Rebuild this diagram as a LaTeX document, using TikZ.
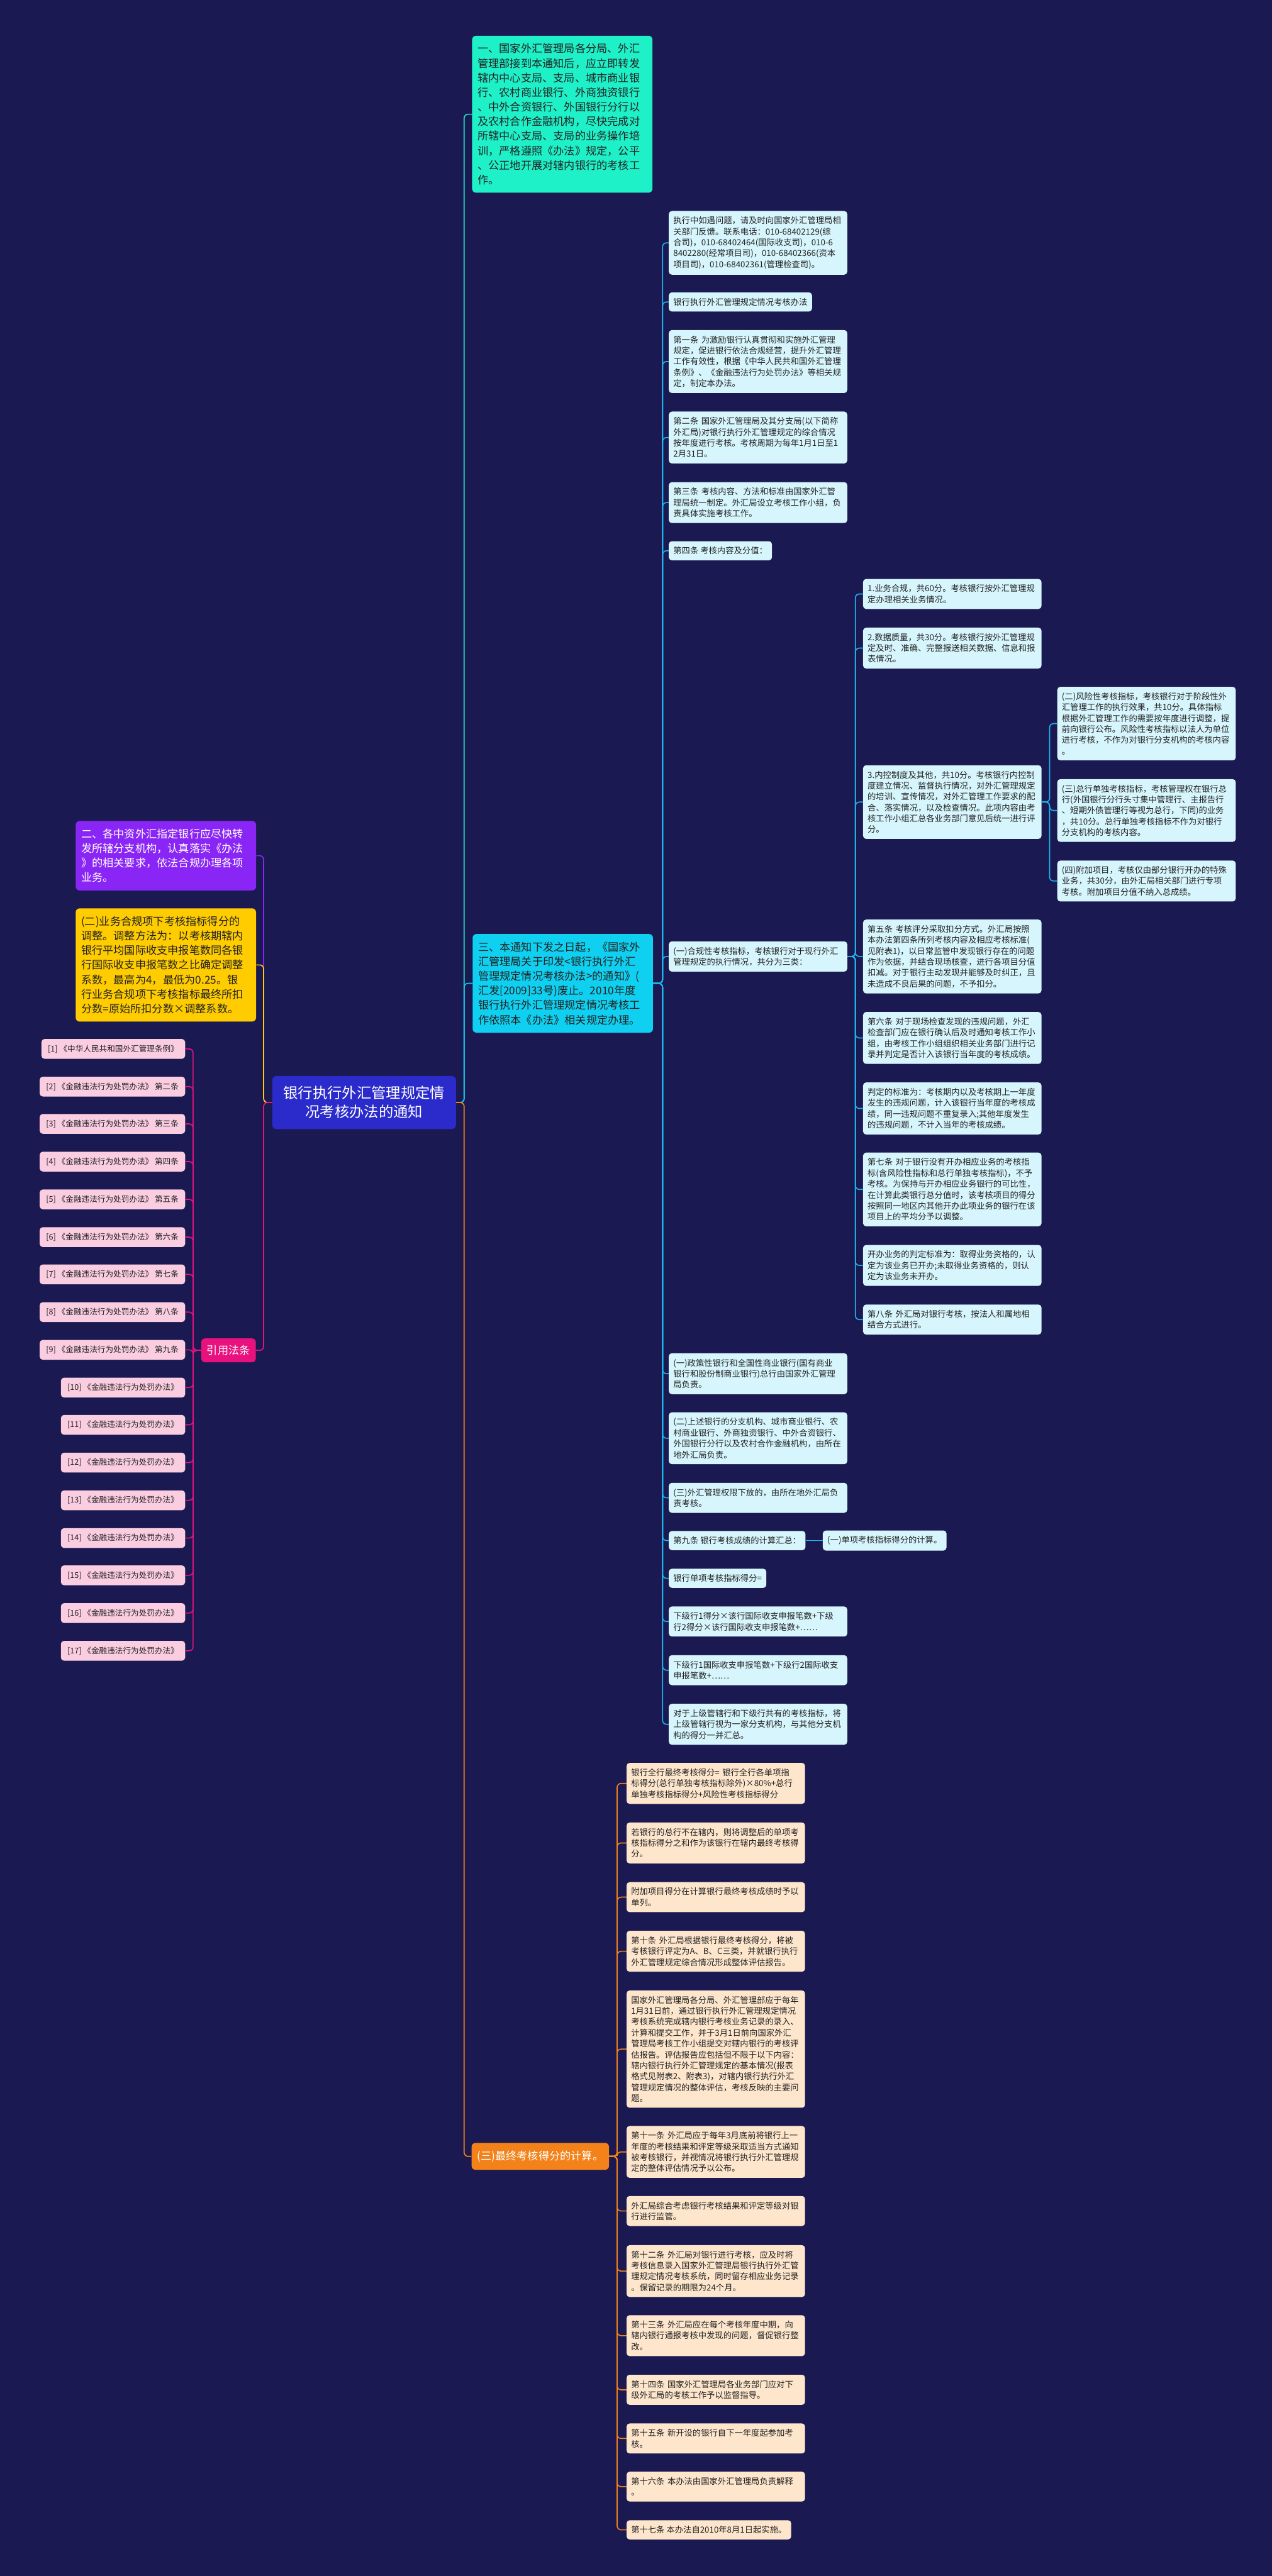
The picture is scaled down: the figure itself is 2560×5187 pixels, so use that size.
\documentclass[tikz,border=0pt]{standalone}
\usepackage{fontspec}
\setmainfont{Noto Sans CJK SC}
\usepackage{tikz}
\definecolor{bgc}{RGB}{27,25,82}
\definecolor{txtc}{RGB}{34,34,34}
\definecolor{tealc}{RGB}{30,240,200}
\definecolor{tealline}{RGB}{28,230,196}
\definecolor{skyc}{RGB}{15,208,240}
\definecolor{skyline}{RGB}{16,200,238}
\definecolor{bline}{RGB}{28,180,235}
\definecolor{lightc}{RGB}{214,245,252}
\definecolor{purp}{RGB}{138,38,245}
\definecolor{yel}{RGB}{255,204,0}
\definecolor{cen}{RGB}{43,43,204}
\definecolor{mag}{RGB}{232,18,127}
\definecolor{pinkc}{RGB}{250,205,225}
\definecolor{orac}{RGB}{242,130,25}
\definecolor{creamc}{RGB}{254,230,204}

\begin{document}
\begin{tikzpicture}[x=0.2mm, y=-0.2mm]

\tikzstyle{mainbox}=[fill=cen, text=white, rounded corners=5pt, minimum width=210.5pt, minimum height=60.9pt, align=center, font=\fontsize{16.8pt}{21.6pt}\selectfont]
\tikzstyle{lvone}=[anchor=west, rounded corners=4.5pt, inner xsep=6.3pt, inner ysep=9pt, text=txtc, font=\fontsize{12.4pt}{16.7pt}\selectfont]
\tikzstyle{lvonew}=[lvone, text width=194pt, align=left]
\tikzstyle{leaf}=[anchor=west, fill=lightc, rounded corners=3.5pt, inner xsep=5.2pt, inner ysep=6.5pt, text=txtc, font=\fontsize{9.6pt}{12.5pt}\selectfont]
\tikzstyle{leafw}=[leaf, text width=194pt, align=left]
\tikzstyle{cream}=[leafw, fill=creamc]
\tikzstyle{ref}=[anchor=east, fill=pinkc, rounded corners=3.5pt, inner xsep=7.4pt, inner ysep=6.7pt, text=txtc, font=\fontsize{9.1pt}{12pt}\selectfont]
\tikzstyle{cline}=[line width=1.2pt, rounded corners=4.5pt]

\useasboundingbox (0,0) rectangle (2560,5187);
\fill [bgc] (0,0) rectangle (2560,5187);

\node (M) [mainbox] at (733,2220) {银行执行外汇管理规定情\\况考核办法的通知};

\node (T) [lvonew, fill=tealc] at (950,230) {一、国家外汇管理局各分局、外汇\\管理部接到本通知后，应立即转发\\辖内中心支局、支局、城市商业银\\行、农村商业银行、外商独资银行\\、中外合资银行、外国银行分行以\\及农村合作金融机构，尽快完成对\\所辖中心支局、支局的业务操作培\\训，严格遵照《办法》规定，公平\\、公正地开展对辖内银行的考核工\\作。};
\node (S) [lvonew, fill=skyc] at (951,1980) {三、本通知下发之日起，《国家外\\汇管理局关于印发<银行执行外汇\\管理规定情况考核办法>的通知》(\\汇发[2009]33号)废止。2010年度\\银行执行外汇管理规定情况考核工\\作依照本《办法》相关规定办理。};
\node (O) [lvone, fill=orac, text=white] at (949,4342) {(三)最终考核得分的计算。};
\node (P) [lvonew, fill=purp, text=white] at (152,1723) {二、各中资外汇指定银行应尽快转\\发所辖分支机构，认真落实《办法\\》的相关要求，依法合规办理各项\\业务。};
\node (Y) [lvonew, fill=yel] at (152,1943) {(二)业务合规项下考核指标得分的\\调整。调整方法为：以考核期辖内\\银行平均国际收支申报笔数同各银\\行国际收支申报笔数之比确定调整\\系数，最高为4，最低为0.25。银\\行业务合规项下考核指标最终所扣\\分数=原始所扣分数×调整系数。};
\node (L) [fill=mag, text=white, rounded corners=4pt, minimum width=62.6pt, minimum height=27.3pt, font=\fontsize{12.4pt}{16pt}\selectfont] at (460,2719) {引用法条};

\node (R1) [ref] at (373,2112) {[1]~《中华人民共和国外汇管理条例》};
\node (R2) [ref] at (373,2188) {[2]~《金融违法行为处罚办法》~第二条};
\node (R3) [ref] at (373,2263) {[3]~《金融违法行为处罚办法》~第三条};
\node (R4) [ref] at (373,2339) {[4]~《金融违法行为处罚办法》~第四条};
\node (R5) [ref] at (373,2415) {[5]~《金融违法行为处罚办法》~第五条};
\node (R6) [ref] at (373,2491) {[6]~《金融违法行为处罚办法》~第六条};
\node (R7) [ref] at (373,2566) {[7]~《金融违法行为处罚办法》~第七条};
\node (R8) [ref] at (373,2642) {[8]~《金融违法行为处罚办法》~第八条};
\node (R9) [ref] at (373,2718) {[9]~《金融违法行为处罚办法》~第九条};
\node (R10) [ref] at (373,2794) {[10]~《金融违法行为处罚办法》};
\node (R11) [ref] at (373,2869) {[11]~《金融违法行为处罚办法》};
\node (R12) [ref] at (373,2945) {[12]~《金融违法行为处罚办法》};
\node (R13) [ref] at (373,3021) {[13]~《金融违法行为处罚办法》};
\node (R14) [ref] at (373,3097) {[14]~《金融违法行为处罚办法》};
\node (R15) [ref] at (373,3172) {[15]~《金融违法行为处罚办法》};
\node (R16) [ref] at (373,3248) {[16]~《金融违法行为处罚办法》};
\node (R17) [ref] at (373,3324) {[17]~《金融违法行为处罚办法》};

\node (B1) [leafw] at (1346,489) {执行中如遇问题，请及时向国家外汇管理局相\\关部门反馈。联系电话：010-68402129(综\\合司)，010-68402464(国际收支司)，010-6\\8402280(经常项目司)，010-68402366(资本\\项目司)，010-68402361(管理检查司)。};
\node (B2) [leaf] at (1346,608) {银行执行外汇管理规定情况考核办法};
\node (B3) [leafw] at (1346,728) {第一条~为激励银行认真贯彻和实施外汇管理\\规定，促进银行依法合规经营，提升外汇管理\\工作有效性，根据《中华人民共和国外汇管理\\条例》、《金融违法行为处罚办法》等相关规\\定，制定本办法。};
\node (B4) [leafw] at (1346,881) {第二条~国家外汇管理局及其分支局(以下简称\\外汇局)对银行执行外汇管理规定的综合情况\\按年度进行考核。考核周期为每年1月1日至1\\2月31日。};
\node (B5) [leafw] at (1346,1012) {第三条~考核内容、方法和标准由国家外汇管\\理局统一制定。外汇局设立考核工作小组，负\\责具体实施考核工作。};
\node (B6) [leaf] at (1346,1109) {第四条~考核内容及分值：};
\node (B7) [leafw] at (1346,1926) {(一)合规性考核指标，考核银行对于现行外汇\\管理规定的执行情况，共分为三类：};
\node (B8) [leafw] at (1346,2766) {(一)政策性银行和全国性商业银行(国有商业\\银行和股份制商业银行)总行由国家外汇管理\\局负责。};
\node (B9) [leafw] at (1346,2896) {(二)上述银行的分支机构、城市商业银行、农\\村商业银行、外商独资银行、中外合资银行、\\外国银行分行以及农村合作金融机构，由所在\\地外汇局负责。};
\node (B10) [leafw] at (1346,3016) {(三)外汇管理权限下放的，由所在地外汇局负\\责考核。};
\node (B11) [leaf] at (1346,3102) {第九条~银行考核成绩的计算汇总：};
\node (B12) [leaf] at (1346,3178) {银行单项考核指标得分=};
\node (B13) [leafw] at (1346,3265) {下级行1得分×该行国际收支申报笔数+下级\\行2得分×该行国际收支申报笔数+……};
\node (B14) [leafw] at (1346,3363) {下级行1国际收支申报笔数+下级行2国际收支\\申报笔数+……};
\node (B15) [leafw] at (1346,3472) {对于上级管辖行和下级行共有的考核指标，将\\上级管辖行视为一家分支机构，与其他分支机\\构的得分一并汇总。};
\node (Q) [leaf] at (1656,3102) {(一)单项考核指标得分的计算。};

\node (C1) [leafw] at (1737,1196) {1.业务合规，共60分。考核银行按外汇管理规\\定办理相关业务情况。};
\node (C2) [leafw] at (1737,1305) {2.数据质量，共30分。考核银行按外汇管理规\\定及时、准确、完整报送相关数据、信息和报\\表情况。};
\node (C3) [leafw] at (1737,1615) {3.内控制度及其他，共10分。考核银行内控制\\度建立情况、监督执行情况，对外汇管理规定\\的培训、宣传情况，对外汇管理工作要求的配\\合、落实情况，以及检查情况。此项内容由考\\核工作小组汇总各业务部门意见后统一进行评\\分。};
\node (C4) [leafw] at (1737,1926) {第五条~考核评分采取扣分方式。外汇局按照\\本办法第四条所列考核内容及相应考核标准(\\见附表1)，以日常监管中发现银行存在的问题\\作为依据，并结合现场核查，进行各项目分值\\扣减。对于银行主动发现并能够及时纠正，且\\未造成不良后果的问题，不予扣分。};
\node (C5) [leafw] at (1737,2090) {第六条~对于现场检查发现的违规问题，外汇\\检查部门应在银行确认后及时通知考核工作小\\组，由考核工作小组组织相关业务部门进行记\\录并判定是否计入该银行当年度的考核成绩。};
\node (C6) [leafw] at (1737,2232) {判定的标准为：考核期内以及考核期上一年度\\发生的违规问题，计入该银行当年度的考核成\\绩，同一违规问题不重复录入;其他年度发生\\的违规问题，不计入当年的考核成绩。};
\node (C7) [leafw] at (1737,2395) {第七条~对于银行没有开办相应业务的考核指\\标(含风险性指标和总行单独考核指标)，不予\\考核。为保持与开办相应业务银行的可比性，\\在计算此类银行总分值时，该考核项目的得分\\按照同一地区内其他开办此项业务的银行在该\\项目上的平均分予以调整。};
\node (C8) [leafw] at (1737,2548) {开办业务的判定标准为：取得业务资格的，认\\定为该业务已开办;未取得业务资格的，则认\\定为该业务未开办。};
\node (C9) [leafw] at (1737,2657) {第八条~外汇局对银行考核，按法人和属地相\\结合方式进行。};

\node (D1) [leafw] at (2128,1457) {(二)风险性考核指标，考核银行对于阶段性外\\汇管理工作的执行效果，共10分。具体指标\\根据外汇管理工作的需要按年度进行调整，提\\前向银行公布。风险性考核指标以法人为单位\\进行考核，不作为对银行分支机构的考核内容\\。};
\node (D2) [leafw] at (2128,1632) {(三)总行单独考核指标，考核管理权在银行总\\行(外国银行分行头寸集中管理行、主报告行\\、短期外债管理行等视为总行，下同)的业务\\，共10分。总行单独考核指标不作为对银行\\分支机构的考核内容。};
\node (D3) [leafw] at (2128,1774) {(四)附加项目，考核仅由部分银行开办的特殊\\业务，共30分，由外汇局相关部门进行专项\\考核。附加项目分值不纳入总成绩。};

\node (E1) [cream] at (1261,3591) {银行全行最终考核得分=~银行全行各单项指\\标得分(总行单独考核指标除外)×80\%+总行\\单独考核指标得分+风险性考核指标得分};
\node (E2) [cream] at (1261,3711) {若银行的总行不在辖内，则将调整后的单项考\\核指标得分之和作为该银行在辖内最终考核得\\分。};
\node (E3) [cream] at (1261,3820) {附加项目得分在计算银行最终考核成绩时予以\\单列。};
\node (E4) [cream] at (1261,3929) {第十条~外汇局根据银行最终考核得分，将被\\考核银行评定为A、B、C三类，并就银行执行\\外汇管理规定综合情况形成整体评估报告。};
\node (E5) [cream] at (1261,4126) {国家外汇管理局各分局、外汇管理部应于每年\\1月31日前，通过银行执行外汇管理规定情况\\考核系统完成辖内银行考核业务记录的录入、\\计算和提交工作，并于3月1日前向国家外汇\\管理局考核工作小组提交对辖内银行的考核评\\估报告。评估报告应包括但不限于以下内容：\\辖内银行执行外汇管理规定的基本情况(报表\\格式见附表2、附表3)，对辖内银行执行外汇\\管理规定情况的整体评估，考核反映的主要问\\题。};
\node (E6) [cream] at (1261,4333) {第十一条~外汇局应于每年3月底前将银行上一\\年度的考核结果和评定等级采取适当方式通知\\被考核银行，并视情况将银行执行外汇管理规\\定的整体评估情况予以公布。};
\node (E7) [cream] at (1261,4452) {外汇局综合考虑银行考核结果和评定等级对银\\行进行监管。};
\node (E8) [cream] at (1261,4573) {第十二条~外汇局对银行进行考核，应及时将\\考核信息录入国家外汇管理局银行执行外汇管\\理规定情况考核系统，同时留存相应业务记录\\。保留记录的期限为24个月。};
\node (E9) [cream] at (1261,4703) {第十三条~外汇局应在每个考核年度中期，向\\辖内银行通报考核中发现的问题，督促银行整\\改。};
\node (E10) [cream] at (1261,4812) {第十四条~国家外汇管理局各业务部门应对下\\级外汇局的考核工作予以监督指导。};
\node (E11) [cream] at (1261,4910) {第十五条~新开设的银行自下一年度起参加考\\核。};
\node (E12) [cream] at (1261,5007) {第十六条~本办法由国家外汇管理局负责解释\\。};
\node (E13) [leaf, fill=creamc] at (1261,5094) {第十七条~本办法自2010年8月1日起实施。};

\draw [cline, tealline] (M.east) -- ++(16,0) |- (T.west);
\draw [cline, skyline] (M.east) -- ++(16,0) |- (S.west);
\draw [cline, orac] (M.east) -- ++(16,0) |- (O.west);
\draw [cline, purp] (M.west) -- ++(-17,0) |- (P.east);
\draw [cline, yel] (M.west) -- ++(-17,0) |- (Y.east);
\draw [cline, mag] (M.west) -- ++(-17,0) |- (L.east);

\draw [cline, mag] (L.west) -- ++(-16,0) |- (R1.east);
\draw [cline, mag] (L.west) -- ++(-16,0) |- (R2.east);
\draw [cline, mag] (L.west) -- ++(-16,0) |- (R3.east);
\draw [cline, mag] (L.west) -- ++(-16,0) |- (R4.east);
\draw [cline, mag] (L.west) -- ++(-16,0) |- (R5.east);
\draw [cline, mag] (L.west) -- ++(-16,0) |- (R6.east);
\draw [cline, mag] (L.west) -- ++(-16,0) |- (R7.east);
\draw [cline, mag] (L.west) -- ++(-16,0) |- (R8.east);
\draw [cline, mag] (L.west) -- ++(-16,0) |- (R9.east);
\draw [cline, mag] (L.west) -- ++(-16,0) |- (R10.east);
\draw [cline, mag] (L.west) -- ++(-16,0) |- (R11.east);
\draw [cline, mag] (L.west) -- ++(-16,0) |- (R12.east);
\draw [cline, mag] (L.west) -- ++(-16,0) |- (R13.east);
\draw [cline, mag] (L.west) -- ++(-16,0) |- (R14.east);
\draw [cline, mag] (L.west) -- ++(-16,0) |- (R15.east);
\draw [cline, mag] (L.west) -- ++(-16,0) |- (R16.east);
\draw [cline, mag] (L.west) -- ++(-16,0) |- (R17.east);

\draw [cline, bline] (S.east) -- ++(19,0) |- (B1.west);
\draw [cline, bline] (S.east) -- ++(19,0) |- (B2.west);
\draw [cline, bline] (S.east) -- ++(19,0) |- (B3.west);
\draw [cline, bline] (S.east) -- ++(19,0) |- (B4.west);
\draw [cline, bline] (S.east) -- ++(19,0) |- (B5.west);
\draw [cline, bline] (S.east) -- ++(19,0) |- (B6.west);
\draw [cline, bline] (S.east) -- ++(19,0) |- (B7.west);
\draw [cline, bline] (S.east) -- ++(19,0) |- (B8.west);
\draw [cline, bline] (S.east) -- ++(19,0) |- (B9.west);
\draw [cline, bline] (S.east) -- ++(19,0) |- (B10.west);
\draw [cline, bline] (S.east) -- ++(19,0) |- (B11.west);
\draw [cline, bline] (S.east) -- ++(19,0) |- (B12.west);
\draw [cline, bline] (S.east) -- ++(19,0) |- (B13.west);
\draw [cline, bline] (S.east) -- ++(19,0) |- (B14.west);
\draw [cline, bline] (S.east) -- ++(19,0) |- (B15.west);
\draw [cline, bline] (B11.east) -- (Q.west);

\draw [cline, bline] (B7.east) -- ++(16,0) |- (C1.west);
\draw [cline, bline] (B7.east) -- ++(16,0) |- (C2.west);
\draw [cline, bline] (B7.east) -- ++(16,0) |- (C3.west);
\draw [cline, bline] (B7.east) -- ++(16,0) |- (C4.west);
\draw [cline, bline] (B7.east) -- ++(16,0) |- (C5.west);
\draw [cline, bline] (B7.east) -- ++(16,0) |- (C6.west);
\draw [cline, bline] (B7.east) -- ++(16,0) |- (C7.west);
\draw [cline, bline] (B7.east) -- ++(16,0) |- (C8.west);
\draw [cline, bline] (B7.east) -- ++(16,0) |- (C9.west);

\draw [cline, bline] (C3.east) -- ++(16,0) |- (D1.west);
\draw [cline, bline] (C3.east) -- ++(16,0) |- (D2.west);
\draw [cline, bline] (C3.east) -- ++(16,0) |- (D3.west);

\draw [cline, orac] (O.east) -- ++(16,0) |- (E1.west);
\draw [cline, orac] (O.east) -- ++(16,0) |- (E2.west);
\draw [cline, orac] (O.east) -- ++(16,0) |- (E3.west);
\draw [cline, orac] (O.east) -- ++(16,0) |- (E4.west);
\draw [cline, orac] (O.east) -- ++(16,0) |- (E5.west);
\draw [cline, orac] (O.east) -- ++(16,0) |- (E6.west);
\draw [cline, orac] (O.east) -- ++(16,0) |- (E7.west);
\draw [cline, orac] (O.east) -- ++(16,0) |- (E8.west);
\draw [cline, orac] (O.east) -- ++(16,0) |- (E9.west);
\draw [cline, orac] (O.east) -- ++(16,0) |- (E10.west);
\draw [cline, orac] (O.east) -- ++(16,0) |- (E11.west);
\draw [cline, orac] (O.east) -- ++(16,0) |- (E12.west);
\draw [cline, orac] (O.east) -- ++(16,0) |- (E13.west);

\end{tikzpicture}
\end{document}
